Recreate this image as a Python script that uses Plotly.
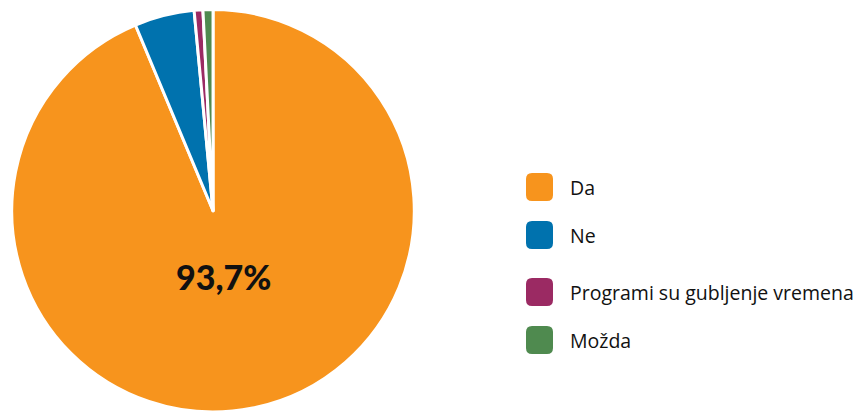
import plotly.graph_objects as go

labels = ["Da", "Ne", "Programi su gubljenje vremena", "Možda"]
values = [93.7, 4.8, 0.7, 0.8]
colors = ["#F7941D", "#0072AE", "#9B2A63", "#4F8A4F"]
big_label = "93,7%"

W, H = 859, 412

fig = go.Figure()

fig.add_trace(go.Pie(
    labels=labels,
    values=values,
    textinfo="none",
    hoverinfo="label+percent",
    marker=dict(colors=colors, line=dict(color="white", width=3)),
    sort=False,
    direction="clockwise",
    rotation=0,
    showlegend=False,
    domain=dict(x=[0.013, 0.483], y=[0.0, 0.977]),
))

# hand-made legend: rounded squares + labels
def rounded_rect(x0, y0, x1, y1, r):
    # pixel coords (top-left origin) -> paper coords
    px = lambda v: v / W
    py = lambda v: 1 - v / H
    return (f"M {px(x0 + r)} {py(y0)} L {px(x1 - r)} {py(y0)} "
            f"Q {px(x1)} {py(y0)} {px(x1)} {py(y0 + r)} "
            f"L {px(x1)} {py(y1 - r)} Q {px(x1)} {py(y1)} {px(x1 - r)} {py(y1)} "
            f"L {px(x0 + r)} {py(y1)} Q {px(x0)} {py(y1)} {px(x0)} {py(y1 - r)} "
            f"L {px(x0)} {py(y0 + r)} Q {px(x0)} {py(y0)} {px(x0 + r)} {py(y0)} Z")

row_centers = [187, 235, 292, 340]
shapes = []
annotations = []
for lab, col, yc in zip(labels, colors, row_centers):
    shapes.append(dict(type="path", xref="paper", yref="paper",
                       path=rounded_rect(526, yc - 14, 553, yc + 14, 6),
                       fillcolor=col, line=dict(width=0)))
    annotations.append(dict(x=568 / W, y=1 - yc / H, xref="paper", yref="paper",
                            text=lab, showarrow=False, xanchor="left", yanchor="middle",
                            font=dict(family="Open Sans", size=19.5, color="#111111")))

# percentage label on the big slice
annotations.append(dict(x=224 / W, y=1 - 276 / H, xref="paper", yref="paper",
                        text=big_label, showarrow=False, xanchor="center", yanchor="middle",
                        font=dict(family="Lato", size=34, color="#111111", weight=900)))

fig.update_layout(
    width=W, height=H,
    margin=dict(l=0, r=0, t=0, b=0),
    paper_bgcolor="white",
    plot_bgcolor="white",
    shapes=shapes,
    annotations=annotations,
)

fig.write_html("out.html", config={"displayModeBar": False},
               post_script="document.body.style.margin='0';")
